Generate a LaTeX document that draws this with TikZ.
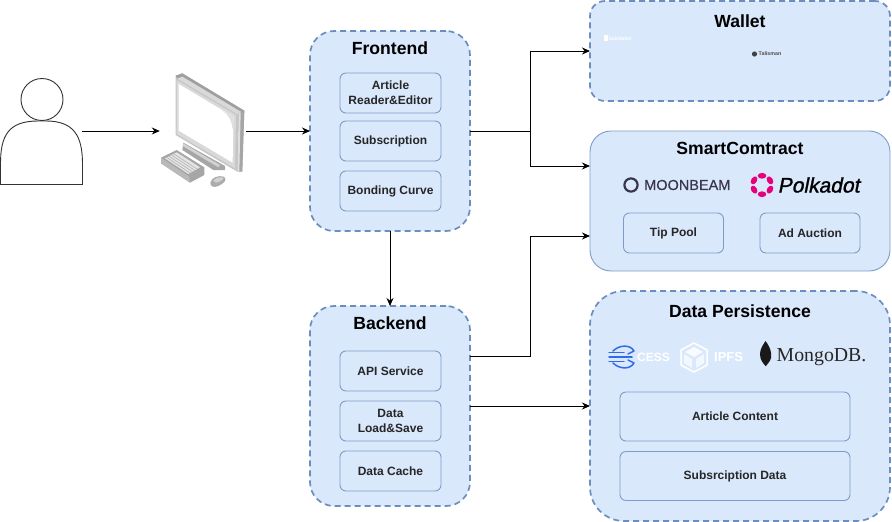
\documentclass[tikz,border=0pt]{standalone}
\usepackage{fontspec}
\setmainfont{Liberation Sans}
\newfontfamily\serifface{Liberation Serif}
\newfontfamily\polkaface[FakeBold=1.2,FakeSlant=0.2]{Liberation Sans}
\newfontfamily\moonface[FakeBold=0.4]{Liberation Sans}
\usetikzlibrary{arrows.meta,calc}
\definecolor{panelfill}{HTML}{DAE8FC}
\definecolor{panelline}{HTML}{6C8EBF}
\definecolor{softline}{HTML}{7F9CC8}
\definecolor{pink}{HTML}{E6007A}
\definecolor{moon}{HTML}{3A3550}
\definecolor{cessblue}{HTML}{2F6BEA}
\tikzset{
  panelbox/.style={draw=panelline,fill=panelfill,line width=1.7pt,dash pattern=on 6pt off 4pt,minimum width=#1,inner sep=0pt,outer sep=0pt},
  solidpanel/.style={draw=softline,fill=panelfill,line width=.9pt,inner sep=0pt,outer sep=0pt},
  innerbox/.style={draw=softline,fill=panelfill,line width=.9pt,rounded corners=6pt,inner sep=0pt,outer sep=0pt,align=center,text=black!85,font=\fontsize{12}{15}\selectfont\bfseries},
  titletext/.style={font=\fontsize{17.6}{20}\selectfont\bfseries,inner sep=0pt},
  link/.style={draw=black,line width=1pt,-{Stealth[length=8pt,width=7pt]}},
  figline/.style={draw=black!80,line width=.9pt,fill=white},
}
\begin{document}
\begin{tikzpicture}[x=1pt,y=-1pt]
\useasboundingbox (0,0) rectangle (892,522);
% ---- panels
\node[panelbox=160pt,minimum height=200pt,rounded corners=24pt] (frontend) at (390,131) {};
\node[panelbox=160pt,minimum height=200pt,rounded corners=24pt] (backend) at (390,406) {};
\node[panelbox=300pt,minimum height=100pt,rounded corners=15pt] (wallet) at (740,51) {};
\node[solidpanel,minimum width=300pt,minimum height=140pt,rounded corners=21pt] (smart) at (740,201) {};
\node[panelbox=300pt,minimum height=230pt,rounded corners=34pt] (data) at (740,406) {};
% ---- titles
\node[titletext] (tfront) at (390,48) {Frontend};
\node[titletext] (tback) at (390,323) {Backend};
\node[titletext] (twallet) at (740,21) {Wallet};
\node[titletext] (tsmart) at (740,148) {SmartComtract};
\node[titletext] (tdata) at (740,311) {Data Persistence};
% ---- inner boxes
\node[innerbox,minimum width=101pt,minimum height=40pt] (reader) at (390.5,93) {Article\\Reader\&Editor};
\node[innerbox,minimum width=101pt,minimum height=40pt] (subs) at (390.5,141) {Subscription};
\node[innerbox,minimum width=101pt,minimum height=40pt] (curve) at (390.5,191) {Bonding Curve};
\node[innerbox,minimum width=101pt,minimum height=40pt] (api) at (390.5,371) {API Service};
\node[innerbox,minimum width=101pt,minimum height=40pt] (load) at (390.5,421) {Data\\Load\&Save};
\node[innerbox,minimum width=101pt,minimum height=40pt] (cache) at (390.5,471) {Data Cache};
\node[innerbox,minimum width=100pt,minimum height=40pt] (tip) at (673.5,233) {Tip Pool};
\node[innerbox,minimum width=100pt,minimum height=40pt] (auction) at (810,233) {Ad Auction};
\node[innerbox,minimum width=230pt,minimum height=49pt] (article) at (735,416.5) {Article Content};
\node[innerbox,minimum width=230pt,minimum height=49pt] (subdata) at (735,476) {Subsrciption Data};
% ---- person
\node[inner sep=0pt,minimum width=82pt,minimum height=106pt] (user) at (41,131) {};
\draw[figline] (0.5,184.5) -- (0.5,164) .. controls (0.5,136) and (8,121) .. (38,121) -- (46,121) .. controls (74,121) and (82.5,136) .. (82.5,164) -- (82.5,184.5) -- cycle;
\draw[figline] (42,99.5) circle (21);
% ---- computer
\node[inner sep=0pt,minimum width=86pt,minimum height=120pt] (pc) at (203,131) {};
\begin{scope}[shift={(150,60)},scale=1/3]
  % stand
  \fill[gray!70] (100,248) -- (225,318) -- (225,330) -- (190,330) -- (97,270) -- cycle;
  \fill[gray!35] (100,250) -- (210,315) -- (205,322) -- (98,258) -- cycle;
  % monitor body
  \fill[gray!45] (77,47) -- (97,40) -- (283,152) -- (277,335) -- (262,335) -- (77,225) -- cycle;
  \fill[gray!75] (77,47) -- (97,40) -- (283,152) -- (277,158) -- (97,50) -- (82,56) -- cycle;
  \fill[gray!30] (82,56) -- (97,50) -- (277,158) -- (262,162) -- cycle;
  \fill[gray!70] (266,160) -- (283,152) -- (277,335) -- (262,335) -- cycle;
  \fill[gray!25] (266,160) -- (272,158) -- (268,335) -- (262,335) -- cycle;
  \fill[gray!30] (80,60) -- (258,165) -- (255,325) -- (80,222) -- cycle;
  \fill[white] (86,72) -- (250,170) -- (248,308) -- (86,212) -- cycle;
  \fill[gray!25] (214,150) .. controls (238,165) and (246,185) .. (248,208) -- (250,170) -- cycle;
  % keyboard
  \fill[gray!70] (33,293) -- (80,270) -- (163,322) -- (163,345) -- (120,368) -- (33,310) -- cycle;
  \fill[gray!55] (33,293) -- (118,350) -- (120,368) -- (33,310) -- cycle;
  \fill[gray!20] (45,295) -- (80,277) -- (150,322) -- (115,342) -- cycle;
  \foreach \t in {0.15,0.35,0.55,0.75}{
    \draw[gray!60,line width=0.6pt] ($(45,295)!\t!(80,277)$) -- ($(115,342)!\t!(150,322)$);
  }
  % mouse
  \fill[gray!65] (181,368) .. controls (185,352) and (205,345) .. (222,350) .. controls (232,358) and (225,368) .. (205,378) .. controls (192,384) and (180,380) .. cycle;
  \fill[gray!35] (190,362) .. controls (195,354) and (210,350) .. (220,353) .. controls (222,358) and (210,365) .. (198,368) -- cycle;
\end{scope}
% ---- wallet logos
\node[inner sep=0pt,text=white,font=\fontsize{4.8}{5}\selectfont\bfseries,anchor=west] (subwallet) at (604,38) {\rule{3.5pt}{5.5pt}\,SubWallet};
\fill[black!75] (754.5,54) circle (2.6);
\node[inner sep=0pt,text=black!70,font=\fontsize{5.3}{6}\selectfont\bfseries,anchor=west] (talisman) at (758.5,54) {Talisman};
% ---- smart contract logos
\draw[moon,line width=2.2pt] (631,185) circle (6.6);
\node[inner sep=0pt,text=moon,font=\fontsize{14.5}{16}\selectfont\moonface,anchor=west] (moonbeam) at (644,185) {MOONBEAM};
\foreach \a in {0,60,120,180,240,300}{
  \fill[pink,rotate around={\a:(762,185)}] (762,175.8) ellipse (4.3 and 2.9);
}
\node[inner sep=0pt,text=black,font=\fontsize{21}{24}\selectfont\polkaface,anchor=west] (polkadot) at (777.5,185) {Polkadot};
% ---- data logos
\begin{scope}[cessblue,line width=1.5pt,line cap=round,line join=round]
  \draw (613,351) .. controls (619,345) and (630,344) .. (634,351) -- (628,354);
  \draw (609,352.5) -- (624,352.5);
  \draw (609,357) -- (632,357);
  \draw (609,361.5) -- (624,361.5);
  \draw (613,363) .. controls (619,369) and (630,370) .. (634,363) -- (628,360);
\end{scope}
\node[inner sep=0pt,text=white,font=\fontsize{12}{14}\selectfont\bfseries,anchor=west] (cess) at (637,357.5) {CESS};
\draw[white,line width=1.5pt,line join=round] (694,343) -- (707,350) -- (707,365) -- (694,372) -- (681,365) -- (681,350) -- cycle;
\fill[white,opacity=.85] (694,347) -- (703,352) -- (694,357) -- (685,352) -- cycle;
\fill[white,opacity=.7] (684,354) -- (692,359) -- (692,368) -- (684,363) -- cycle;
\fill[white,opacity=.7] (704,354) -- (696,359) -- (696,368) -- (704,363) -- cycle;
\node[inner sep=0pt,text=white,font=\fontsize{13}{14}\selectfont\bfseries,anchor=west] (ipfs) at (714,357.5) {IPFS};
\fill[black!90] (765.5,341) .. controls (770,347) and (772,352) .. (771,358) .. controls (770,362) and (767,364) .. (766,366) -- (765.5,366) .. controls (763,363) and (760,360) .. (760,354) .. controls (760,349) and (763,345) .. (765.5,341) -- cycle;
\node[inner sep=0pt,text=black!85,font=\fontsize{19.8}{23}\selectfont\serifface,anchor=west] (mongo) at (776.5,357) {MongoDB.};
% ---- connectors
\coordinate (smarttop) at ($(smart.west)+(0,-35)$);
\coordinate (smartlow) at ($(smart.west)+(0,35)$);
\coordinate (backa) at ($(backend.east)+(0,-50)$);
\draw[link] (user.east) -- (pc.west);
\draw[link] (pc.east) -- (frontend.west);
\draw[link] (frontend.east) -| (530,51) -- (wallet.west);
\draw[link] (frontend.east) -| (530,166) -- (smarttop);
\draw[link] (frontend.south) -- (backend.north);
\draw[link] (backa) -| (530,236) -- (smartlow);
\draw[link] (backend.east) -- (data.west);
\end{tikzpicture}
\end{document}
